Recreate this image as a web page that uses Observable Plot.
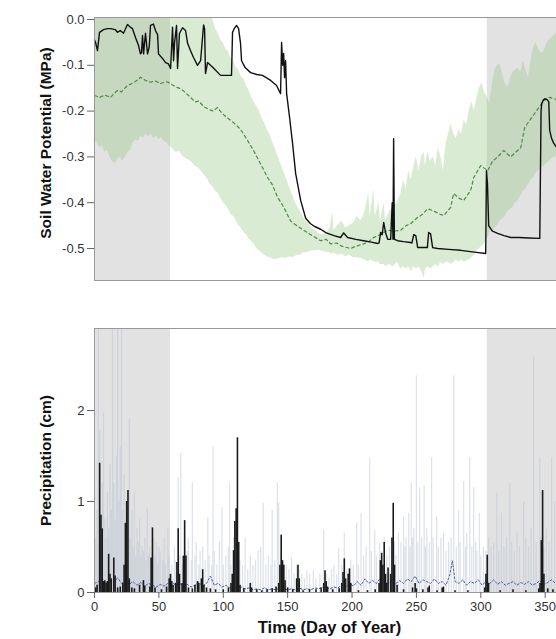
<!DOCTYPE html>
<html><head><meta charset="utf-8">
<script src="https://cdn.jsdelivr.net/npm/d3@7"></script>
<script src="https://cdn.jsdelivr.net/npm/@observablehq/plot@0.6"></script>
<style>
body{margin:0;background:#fff;}
#wrap{width:556px;height:639px;overflow:hidden;position:relative;background:#fff;}
#wrap svg{display:block;max-width:none !important;}
</style></head><body><div id="wrap"></div>
<script>
// ---------- Data ----------
const shadedPeriods = [[0, 59], [305, 365]];
const swpTicks = [0, -0.1, -0.2, -0.3, -0.4, -0.5];
const precipTicks = [0, 1, 2];
const dayTicks = [0, 50, 100, 150, 200, 250, 300, 350];

// observed soil water potential for the year [day, MPa]
const swpObserved = [[0,-0.045],[0.8,-0.05],[2.3,-0.068],[3.9,-0.028],[7,-0.022],[10,-0.02],[12.4,-0.02],[16,-0.022],[17.9,-0.028],[20,-0.024],[22.5,-0.03],[25.6,-0.011],[27.5,-0.016],[29.5,-0.02],[31.9,-0.04],[34.2,-0.057],[35.7,-0.075],[36.5,-0.072],[37.3,-0.035],[38.1,-0.075],[39.6,-0.03],[41.2,-0.075],[42.5,-0.06],[43.5,-0.013],[45.8,-0.01],[47.5,-0.025],[49,-0.033],[49.7,-0.075],[52.8,-0.085],[55.2,-0.094],[57.5,-0.097],[59.1,-0.107],[60.6,-0.017],[61.4,-0.09],[62.2,-0.05],[63.7,-0.013],[64.5,-0.107],[66,-0.03],[68.4,-0.018],[70.7,-0.024],[72.3,-0.052],[74.6,-0.068],[76.9,-0.083],[80,-0.1],[82.4,-0.09],[84.7,-0.012],[85.5,-0.02],[86.2,-0.118],[87.8,-0.094],[92,-0.105],[97.9,-0.122],[106.4,-0.122],[107.2,-0.028],[108.5,-0.02],[110.3,-0.013],[111.9,-0.02],[113.4,-0.052],[114.2,-0.09],[117,-0.105],[121.2,-0.116],[126,-0.12],[130.5,-0.122],[136.8,-0.133],[141.4,-0.144],[144.5,-0.162],[145.3,-0.05],[146.1,-0.1],[146.9,-0.074],[147.6,-0.127],[148.4,-0.09],[149.2,-0.162],[151.5,-0.214],[153.8,-0.27],[156.2,-0.336],[160.1,-0.395],[164,-0.434],[167.8,-0.446],[171,-0.452],[175.6,-0.458],[180,-0.466],[186,-0.472],[191.1,-0.476],[193.5,-0.466],[196.6,-0.476],[203,-0.48],[209,-0.483],[215,-0.486],[219.9,-0.489],[221,-0.488],[222.2,-0.465],[223.4,-0.47],[224.6,-0.443],[226,-0.465],[227.7,-0.48],[230,-0.48],[231.2,-0.4],[231.8,-0.48],[232.3,-0.26],[232.9,-0.48],[235.4,-0.483],[240,-0.485],[245.5,-0.487],[246.5,-0.488],[247.9,-0.47],[249.5,-0.472],[251,-0.498],[257.2,-0.498],[258.5,-0.498],[259.5,-0.465],[261,-0.468],[262.6,-0.498],[266.5,-0.5],[275,-0.502],[284.4,-0.504],[295,-0.508],[303.8,-0.511],[304.4,-0.33],[305.2,-0.36],[306.1,-0.45],[309,-0.462],[313.1,-0.467],[318,-0.472],[323.2,-0.476],[330,-0.476],[337.2,-0.477],[345,-0.478],[345.8,-0.478],[346.8,-0.2],[347.3,-0.184],[348.5,-0.176],[349.7,-0.173],[351.5,-0.175],[352.8,-0.18],[353.5,-0.242],[355,-0.26],[356.6,-0.27],[359,-0.28],[365,-0.285]];

// long-term mean soil water potential [day, MPa]
const swpMean = [[0,-0.166],[4,-0.17],[8,-0.165],[12.4,-0.17],[15,-0.162],[17.9,-0.155],[21,-0.158],[25.6,-0.144],[29,-0.14],[32,-0.135],[35.7,-0.126],[39,-0.132],[43.5,-0.137],[47,-0.134],[51.3,-0.14],[54,-0.137],[56.7,-0.136],[60,-0.142],[63,-0.147],[66.8,-0.151],[70,-0.158],[74.6,-0.17],[78,-0.18],[81,-0.178],[84.7,-0.19],[88,-0.195],[92,-0.2],[95.6,-0.192],[99,-0.205],[102,-0.212],[105.7,-0.22],[110,-0.23],[113.4,-0.24],[118,-0.26],[123.5,-0.286],[128,-0.31],[134.4,-0.345],[138,-0.36],[142.2,-0.388],[147,-0.41],[152.3,-0.44],[157,-0.45],[162.4,-0.46],[168,-0.47],[175.6,-0.483],[180,-0.48],[183.4,-0.49],[188,-0.488],[192,-0.495],[198.9,-0.5],[203,-0.495],[209,-0.49],[213,-0.485],[216.8,-0.476],[222,-0.47],[227.7,-0.46],[233,-0.462],[237.8,-0.46],[242,-0.45],[245.5,-0.446],[251,-0.432],[255,-0.425],[258.7,-0.413],[263.4,-0.418],[268,-0.425],[271.2,-0.428],[276.6,-0.41],[278.9,-0.38],[283,-0.39],[286.7,-0.395],[292.2,-0.373],[294.5,-0.345],[299.9,-0.319],[305.4,-0.33],[309,-0.31],[313.1,-0.3],[317.8,-0.286],[323.2,-0.3],[327,-0.29],[331,-0.28],[334.1,-0.236],[338,-0.22],[343.4,-0.199],[348.9,-0.177],[353.5,-0.17],[359,-0.175],[365,-0.18]];

// long-term range of soil water potential [day, low, high]
const swpRange = [[0,-0.264,0.0044],[2,-0.27,0.0044],[4,-0.28,0.0044],[6,-0.275,0.0044],[8,-0.29,0.0044],[10,-0.285,0.0044],[12,-0.3,0.0044],[14,-0.31,0.0044],[16,-0.315,0.0044],[18,-0.305,0.0044],[20,-0.3,0.0044],[22,-0.31,0.0044],[24,-0.3,0.0044],[26,-0.29,0.0044],[28,-0.285,0.0044],[30,-0.27,0.0044],[32,-0.262,0.0044],[34,-0.266,0.0044],[36,-0.255,0.0044],[38,-0.258,0.0044],[40,-0.25,0.0044],[42,-0.256,0.0044],[44,-0.25,0.0044],[46,-0.26,0.0044],[48,-0.255,0.0044],[50,-0.262,0.0044],[52,-0.258,0.0044],[54,-0.266,0.0044],[56,-0.268,0.0044],[58,-0.276,0.0044],[60,-0.28,0.0044],[63,-0.29,0.0044],[66,-0.288,0.0044],[69,-0.3,0.0044],[72,-0.305,0.0044],[75,-0.31,0.0044],[78,-0.32,0.0044],[81,-0.325,0.0044],[84,-0.335,0.0044],[87,-0.345,0.0044],[90,-0.36,0.0044],[92,-0.365,0.0],[94,-0.375,-0.02],[96,-0.38,-0.03],[98,-0.39,-0.045],[100,-0.4,-0.05],[102,-0.405,-0.065],[104,-0.415,-0.07],[106,-0.425,-0.085],[108,-0.43,-0.09],[110,-0.44,-0.105],[112,-0.45,-0.11],[114,-0.455,-0.125],[116,-0.465,-0.13],[118,-0.47,-0.145],[120,-0.48,-0.155],[122,-0.485,-0.17],[124,-0.49,-0.18],[126,-0.5,-0.19],[128,-0.505,-0.2],[130,-0.51,-0.215],[132,-0.515,-0.225],[134,-0.518,-0.24],[136,-0.52,-0.25],[138,-0.522,-0.265],[140,-0.525,-0.28],[142,-0.523,-0.295],[144,-0.522,-0.31],[146,-0.52,-0.325],[148,-0.522,-0.34],[150,-0.52,-0.355],[152,-0.518,-0.37],[154,-0.52,-0.385],[156,-0.517,-0.4],[158,-0.515,-0.41],[160,-0.515,-0.42],[162,-0.51,-0.43],[164,-0.51,-0.44],[166,-0.508,-0.445],[168,-0.506,-0.452],[170,-0.505,-0.458],[172,-0.505,-0.462],[174,-0.503,-0.466],[176,-0.505,-0.47],[180,-0.508,-0.468],[183,-0.51,-0.455],[185,-0.512,-0.42],[186,-0.51,-0.46],[189,-0.515,-0.45],[192,-0.512,-0.44],[195,-0.518,-0.455],[198,-0.515,-0.45],[201,-0.52,-0.445],[204,-0.52,-0.43],[207,-0.522,-0.44],[210,-0.525,-0.42],[213,-0.53,-0.38],[214,-0.525,-0.43],[217,-0.528,-0.37],[218,-0.53,-0.43],[221,-0.53,-0.4],[222,-0.535,-0.44],[225,-0.535,-0.4],[226,-0.54,-0.44],[229,-0.535,-0.42],[232,-0.54,-0.41],[235,-0.53,-0.4],[238,-0.545,-0.38],[240,-0.54,-0.35],[242,-0.545,-0.37],[244,-0.54,-0.33],[246,-0.55,-0.35],[248,-0.54,-0.32],[250,-0.545,-0.3],[252,-0.54,-0.33],[254,-0.55,-0.3],[256,-0.565,-0.29],[257,-0.545,-0.32],[259,-0.54,-0.29],[261,-0.545,-0.31],[263,-0.54,-0.3],[265,-0.535,-0.32],[267,-0.54,-0.28],[269,-0.53,-0.3],[271,-0.535,-0.33],[273,-0.53,-0.27],[275,-0.53,-0.25],[277,-0.535,-0.227],[279,-0.53,-0.25],[281,-0.525,-0.26],[283,-0.53,-0.24],[285,-0.525,-0.25],[287,-0.53,-0.22],[289,-0.528,-0.23],[291,-0.525,-0.2],[293,-0.52,-0.18],[295,-0.515,-0.2],[297,-0.505,-0.17],[299,-0.5,-0.15],[301,-0.495,-0.138],[303,-0.49,-0.16],[305,-0.48,-0.17],[307,-0.465,-0.183],[309,-0.46,-0.14],[311,-0.455,-0.11],[313,-0.45,-0.1],[315,-0.44,-0.097],[317,-0.435,-0.12],[319,-0.43,-0.14],[321,-0.42,-0.148],[323,-0.415,-0.13],[325,-0.41,-0.115],[327,-0.4,-0.11],[329,-0.395,-0.107],[331,-0.385,-0.115],[333,-0.375,-0.09],[335,-0.37,-0.11],[337,-0.36,-0.127],[339,-0.35,-0.09],[341,-0.345,-0.06],[343,-0.335,-0.052],[345,-0.33,-0.065],[347,-0.325,-0.074],[349,-0.32,-0.07],[351,-0.315,-0.055],[353,-0.31,-0.045],[355,-0.305,-0.04],[357,-0.3,-0.035],[359,-0.3,-0.03],[365,-0.295,-0.025]];

// observed daily precipitation for the year [day, cm]
const precipObserved = [[1,0.05],[2,0.08],[4,1.42],[5,0.85],[6,0.7],[7,0.12],[8,0.13],[9,0.1],[10,0.12],[11,0.42],[12,0.2],[13,0.15],[15,0.38],[16,0.18],[18,0.05],[20,0.06],[22,0.1],[23,0.3],[24,0.76],[25,1.0],[26,1.12],[27,0.15],[29,0.05],[31,0.04],[35,0.08],[38,0.13],[39,0.07],[43,0.06],[44,0.38],[45,0.71],[47,0.05],[52,0.03],[56,0.06],[58,0.15],[59,0.2],[60,0.12],[61,0.08],[63,0.1],[64,0.33],[65,0.7],[66,0.2],[68,0.1],[69,0.4],[70,0.79],[71,0.4],[73,0.05],[76,0.04],[78,0.08],[80,0.12],[81,0.1],[83,0.15],[84,0.25],[85,0.08],[87,0.05],[90,0.04],[94,0.03],[100,0.03],[104,0.05],[106,0.1],[107,0.2],[108,0.46],[109,0.78],[110,0.92],[111,1.7],[112,0.55],[113,0.08],[116,0.04],[121,0.1],[122,0.05],[126,0.03],[130,0.02],[134,0.03],[138,0.04],[141,0.06],[143,0.1],[144,0.3],[145,0.63],[146,0.35],[147,0.3],[148,0.13],[150,0.05],[154,0.03],[157,0.15],[158,0.3],[159,0.15],[162,0.02],[167,0.03],[172,0.03],[176,0.05],[178,0.1],[179,0.24],[180,0.12],[181,0.06],[185,0.03],[190,0.04],[192,0.1],[193,0.22],[194,0.37],[195,0.15],[197,0.2],[198,0.26],[199,0.1],[205,0.02],[212,0.02],[218,0.03],[221,0.1],[222,0.35],[223,0.43],[224,0.3],[225,0.55],[226,0.2],[227,0.1],[228,0.27],[230,0.2],[231,0.6],[232,0.98],[233,0.3],[235,0.08],[240,0.03],[247,0.05],[249,0.1],[250,0.04],[255,0.03],[259,0.05],[260,0.07],[266,0.02],[270,0.05],[271,0.06],[280,0.02],[290,0.02],[303,0.05],[304,0.2],[305,0.41],[306,0.1],[315,0.02],[325,0.03],[335,0.02],[345,0.04],[346,0.1],[347,0.57],[348,1.12],[349,0.2],[352,0.04],[356,0.03]];

// precipitation of all other years [day, cm]
const precipAllYears = [[1,0.6],[2,0.9],[3,2.9],[4,1.78],[5,0.5],[6,1.2],[7,1.97],[8,0.8],[9,0.6],[10,1.1],[11,0.7],[12,1.4],[13,0.9],[14,2.9],[15,1.2],[16,0.8],[17,1.5],[18,2.9],[19,1.0],[20,1.6],[21,2.9],[22,0.9],[23,1.3],[24,0.7],[25,1.0],[26,0.8],[27,1.9],[28,0.6],[29,0.9],[30,0.5],[31,1.1],[32,0.4],[33,0.7],[34,0.55],[35,0.8],[36,0.4],[37,0.5],[38,0.45],[39,0.6],[40,0.35],[41,0.93],[42,0.4],[43,0.5],[44,0.3],[46,0.6],[47,0.4],[48,0.55],[49,0.3],[50,0.5],[51,0.45],[53,0.35],[54,0.6],[55,0.3],[57,0.71],[58,0.4],[60,0.3],[62,0.5],[63,0.35],[65,1.26],[66,0.4],[67,1.53],[68,0.3],[70,0.5],[72,0.45],[73,0.6],[75,0.35],[76,1.2],[78,0.4],[79,0.55],[81,0.3],[82,0.45],[84,0.5],[86,0.35],[88,0.82],[89,0.4],[91,0.3],[92,1.6],[93,0.45],[95,0.3],[97,0.55],[99,0.93],[100,0.3],[102,0.4],[104,0.5],[105,1.2],[106,0.3],[108,0.6],[110,0.45],[113,0.35],[115,0.3],[117,0.6],[119,0.25],[121,0.4],[123,0.3],[125,0.35],[127,0.45],[129,0.5],[131,0.98],[133,0.3],[135,0.4],[137,0.3],[138,0.9],[140,0.35],[142,1.2],[143,0.98],[145,0.4],[147,0.3],[149,0.3],[151,0.25],[153,0.38],[155,0.2],[157,0.3],[159,0.25],[161,0.2],[163,0.15],[165,0.24],[167,0.2],[170,0.24],[172,0.15],[175,0.2],[178,0.68],[180,0.2],[182,0.15],[184,0.25],[186,0.3],[188,0.2],[189.6,0.48],[192,0.3],[194,0.65],[196,0.25],[199,0.35],[201,0.3],[203.6,0.76],[205,0.3],[207,0.87],[209,0.4],[211,0.5],[213.7,1.48],[215,0.45],[217.6,0.68],[219,0.4],[221.4,0.54],[223,0.45],[225,0.6],[227,0.4],[229,0.5],[231,0.45],[233,0.55],[234,0.4],[236,0.65],[238,0.55],[240,0.83],[241,0.5],[242,0.6],[244,0.87],[245,0.5],[246,1.2],[247,0.6],[248,0.7],[250,2.38],[251,0.55],[252.5,1.15],[254,0.6],[256,1.17],[257,0.5],[258,0.7],[260,0.55],[261.8,1.48],[263,0.6],[265.7,0.83],[267,0.5],[269,0.6],[271,0.65],[273,0.45],[275,0.55],[277,0.6],[279,2.38],[281,0.5],[282.8,0.9],[284,0.55],[286.7,1.22],[288,0.5],[289,0.65],[291.4,1.48],[293,0.5],[294.5,1.15],[296,0.55],[297,0.45],[299,0.87],[300,0.4],[302,0.5],[304,0.45],[306,0.6],[308,0.5],[310,0.55],[312.4,1.09],[314,0.45],[316,0.87],[318,0.5],[320,0.6],[322.5,1.2],[324,0.55],[326,0.45],[328,0.65],[330,0.5],[333.3,1.0],[335,0.6],[337,0.5],[339,0.7],[341,2.6],[343,0.55],[345.8,1.48],[347,0.6],[349,0.5],[351,0.7],[353,0.55],[355,1.48],[357.4,1.0],[359,0.6]];

// long-term mean daily precipitation [day, cm]
const precipMean = [[0,0.1],[3,0.12],[6,0.15],[9,0.1],[12,0.14],[15,0.12],[18,0.16],[21,0.1],[24,0.13],[27,0.09],[30,0.12],[33,0.08],[36,0.11],[39,0.07],[42,0.1],[45,0.08],[48,0.06],[51,0.09],[54,0.07],[57,0.1],[60,0.12],[63,0.08],[66,0.1],[69,0.07],[72,0.09],[75,0.06],[78,0.08],[81,0.11],[84,0.07],[87,0.1],[90,0.18],[93,0.08],[96,0.1],[99,0.06],[102,0.08],[105,0.05],[108,0.07],[111,0.05],[114,0.06],[117,0.04],[120,0.05],[123,0.03],[126,0.04],[129,0.03],[132,0.05],[135,0.03],[138,0.04],[141,0.03],[144,0.05],[147,0.04],[150,0.03],[153,0.04],[156,0.03],[159,0.05],[162,0.03],[165,0.04],[168,0.03],[171,0.05],[174,0.04],[177,0.06],[180,0.05],[183,0.04],[186,0.06],[189,0.05],[192,0.08],[195,0.06],[198,0.1],[201,0.07],[204,0.12],[207,0.08],[210,0.15],[213,0.1],[216,0.13],[219,0.1],[222,0.16],[225,0.12],[228,0.1],[231,0.14],[234,0.1],[237,0.13],[240,0.1],[243,0.15],[246,0.12],[249,0.18],[252,0.1],[255,0.14],[258,0.12],[261,0.1],[264,0.15],[267,0.1],[270,0.12],[273,0.08],[276,0.2],[278,0.35],[280,0.12],[283,0.1],[286,0.14],[289,0.08],[292,0.12],[295,0.1],[298,0.14],[301,0.08],[304,0.12],[307,0.1],[310,0.14],[313,0.09],[316,0.12],[319,0.08],[322,0.1],[325,0.12],[328,0.08],[331,0.11],[334,0.09],[337,0.12],[340,0.08],[343,0.1],[346,0.13],[349,0.09],[352,0.11],[355,0.14],[358,0.1]];

// ---------- Drawing ----------
const FONT = "'Liberation Sans', Arial, Helvetica, sans-serif";
const W = 564; // full plot extends past the visible 556 px (cropped on the right)
const shadeData = shadedPeriods.map(([a, b]) => ({x1: a, x2: b}));

const plotSWP = Plot.plot({
  width: W, height: 300,
  marginLeft: 94, marginRight: 0, marginTop: 17, marginBottom: 20,
  style: {fontFamily: FONT, background: "white", color: "#333"},
  x: {domain: [0, 365], axis: null},
  y: {domain: [-0.5699, 0.0044], axis: null},
  marks: [
    Plot.rect(shadeData, {x1: "x1", x2: "x2", fill: "#e2e2e2"}),
    Plot.areaY(swpRange, {x: d => d[0], y1: d => d[1], y2: d => d[2], fill: "#93c47f", fillOpacity: 0.34}),
    Plot.line(swpMean, {x: d => d[0], y: d => d[1], stroke: "#4e8a44", strokeWidth: 1.2, strokeDasharray: "3,3"}),
    Plot.line(swpObserved, {x: d => d[0], y: d => d[1], stroke: "#111", strokeWidth: 1.4}),
    Plot.frame({stroke: "#999"}),
    Plot.axisY({ticks: swpTicks, tickFormat: d => d.toFixed(1), tickSize: 7, tickPadding: 3, fontSize: 13, stroke: "#666", fill: "#333", label: null}),
    Plot.text(["Soil Water Potential (MPa)"], {frameAnchor: "left", dx: -48, dy: -6, rotate: -90, textAnchor: "middle", lineAnchor: "middle", fontWeight: "bold", fontSize: 15.5, fill: "#111"})
  ]
});

const plotPrecip = Plot.plot({
  width: W, height: 339,
  marginLeft: 94, marginRight: 0, marginTop: 28, marginBottom: 47,
  style: {fontFamily: FONT, background: "white", color: "#333"},
  x: {domain: [0, 365], axis: null},
  y: {domain: [0, 2.901], axis: null},
  marks: [
    Plot.rect(shadeData, {x1: "x1", x2: "x2", fill: "#e2e2e2"}),
    Plot.ruleX(precipAllYears, {x: d => d[0], y1: 0, y2: d => d[1], stroke: "#bcc4d6", strokeOpacity: 0.5, strokeWidth: 1.2, clip: true}),
    Plot.line(precipMean, {x: d => d[0], y: d => d[1], stroke: "#4a5ca8", strokeWidth: 1, strokeDasharray: "2,2"}),
    Plot.ruleX(precipObserved, {x: d => d[0], y1: 0, y2: d => d[1], stroke: "#1a1a1a", strokeWidth: 1.6}),
    Plot.frame({stroke: "#999"}),
    Plot.axisY({ticks: precipTicks, tickFormat: d => String(d), tickSize: 7, tickPadding: 3, fontSize: 13, stroke: "#666", fill: "#333", label: null}),
    Plot.axisX({ticks: dayTicks, tickFormat: d => String(d), tickSize: 6, tickPadding: 3, fontSize: 13, stroke: "#666", fill: "#333", label: null}),
    Plot.text(["Precipitation (cm)"], {frameAnchor: "left", dx: -48, rotate: -90, textAnchor: "middle", lineAnchor: "middle", fontWeight: "bold", fontSize: 15.5, fill: "#111"}),
    Plot.text(["Time (Day of Year)"], {frameAnchor: "bottom", dy: 35, lineAnchor: "middle", fontWeight: "bold", fontSize: 16.5, fill: "#111"})
  ]
});

const wrap = document.getElementById("wrap");
wrap.appendChild(plotSWP);
wrap.appendChild(plotPrecip);
</script>
</body></html>
